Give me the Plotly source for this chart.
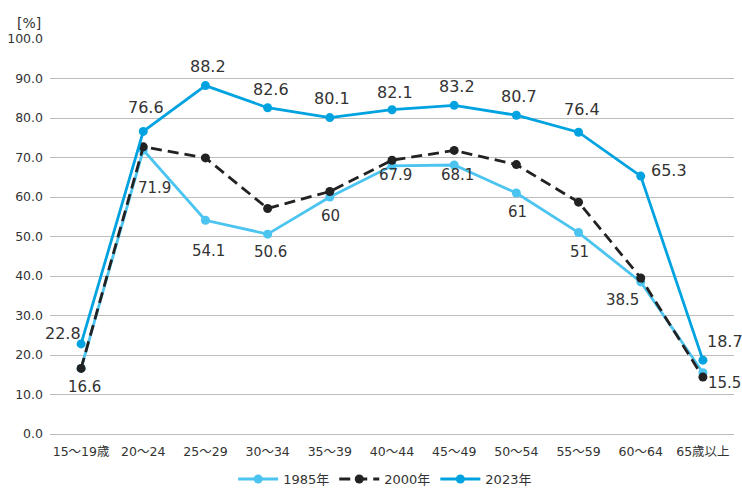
import plotly.graph_objects as go

# Female labour force participation rate by age group (%)
age_groups = ["15～19歳", "20～24", "25～29", "30～34", "35～39", "40～44",
              "45～49", "50～54", "55～59", "60～64", "65歳以上"]
rate_1985 = [16.6, 71.9, 54.1, 50.6, 60.0, 67.9, 68.1, 61.0, 51.0, 38.5, 15.5]
rate_2000 = [16.6, 72.7, 69.9, 57.1, 61.4, 69.3, 71.8, 68.2, 58.7, 39.5, 14.4]
rate_2023 = [22.8, 76.6, 88.2, 82.6, 80.1, 82.1, 83.2, 80.7, 76.4, 65.3, 18.7]

labels_1985 = ["16.6", "71.9", "54.1", "50.6", "60", "67.9", "68.1", "61", "51", "38.5", "15.5"]
labels_2023 = [f"{v:.1f}" for v in rate_2023]

# label placement relative to each marker (pixels: right, up)
shift_1985 = [(3, -19), (11, -38), (3, -31), (3, -18), (1, -19), (3, -9),
              (3, -10), (1, -19), (1, -19), (-18, -18), (22, -10)]
shift_2023 = [(-18, 10), (3, 24), (3, 19), (3, 18), (2, 19), (3, 17),
              (3, 19), (3, 19), (3, 23), (28, 6), (22, 19)]

C1985 = "#4cc4f0"
C2000 = "#222222"
C2023 = "#00a3e0"
TXT = "#333333"

FONT = "DejaVu Sans, Noto Sans CJK JP, sans-serif"

fig = go.Figure()
fig.add_trace(go.Scatter(
    x=age_groups, y=rate_1985, name="1985年", mode="lines+markers",
    line=dict(color=C1985, width=2.8), marker=dict(size=9, color=C1985),
))
fig.add_trace(go.Scatter(
    x=age_groups, y=rate_2000, name="2000年", mode="lines+markers",
    line=dict(color=C2000, width=2.8, dash="11px,6px"), marker=dict(size=9, color=C2000),
))
fig.add_trace(go.Scatter(
    x=age_groups, y=rate_2023, name="2023年", mode="lines+markers",
    line=dict(color=C2023, width=2.8), marker=dict(size=9, color=C2023),
))

annotations = []
for cat, val, txt, (dx, dy) in zip(age_groups, rate_1985, labels_1985, shift_1985):
    annotations.append(dict(x=cat, y=val, text=txt, showarrow=False,
                            xanchor="center", yanchor="middle", xshift=dx, yshift=dy,
                            font=dict(size=15, color=TXT, family=FONT)))
for cat, val, txt, (dx, dy) in zip(age_groups, rate_2023, labels_2023, shift_2023):
    annotations.append(dict(x=cat, y=val, text=txt, showarrow=False,
                            xanchor="center", yanchor="middle", xshift=dx, yshift=dy,
                            font=dict(size=16, color=TXT, family=FONT)))
annotations.append(dict(text="[%]", xref="paper", yref="paper", x=-0.031, y=1.04,
                        xanchor="center", yanchor="middle", showarrow=False,
                        font=dict(size=14, color=TXT, family=FONT)))

fig.update_layout(
    width=742, height=488,
    margin=dict(l=50, r=8, t=39, b=54, autoexpand=False),
    paper_bgcolor="white", plot_bgcolor="white",
    font=dict(family=FONT, size=12, color=TXT),
    showlegend=True,
    legend=dict(orientation="h", x=0.49, xanchor="center", y=-0.114, yanchor="middle",
                font=dict(size=13, color=TXT), itemwidth=40, tracegroupgap=0),
    xaxis=dict(type="category", range=[-0.5, len(age_groups) - 0.5], autorange=False,
               showgrid=False, showline=False, ticks="", zeroline=False,
               tickfont=dict(size=12.5), ticklabelstandoff=8),
    yaxis=dict(range=[0, 100], autorange=False, dtick=10, tickformat=".1f",
               showgrid=True, gridcolor="#bdbdbd", gridwidth=1,
               zeroline=True, zerolinecolor="#bdbdbd", zerolinewidth=1,
               showline=False, ticks="", tickfont=dict(size=12.5),
               ticklabelstandoff=6),
    annotations=annotations,
)
fig.update_traces(cliponaxis=False)

fig.write_html("out.html")
